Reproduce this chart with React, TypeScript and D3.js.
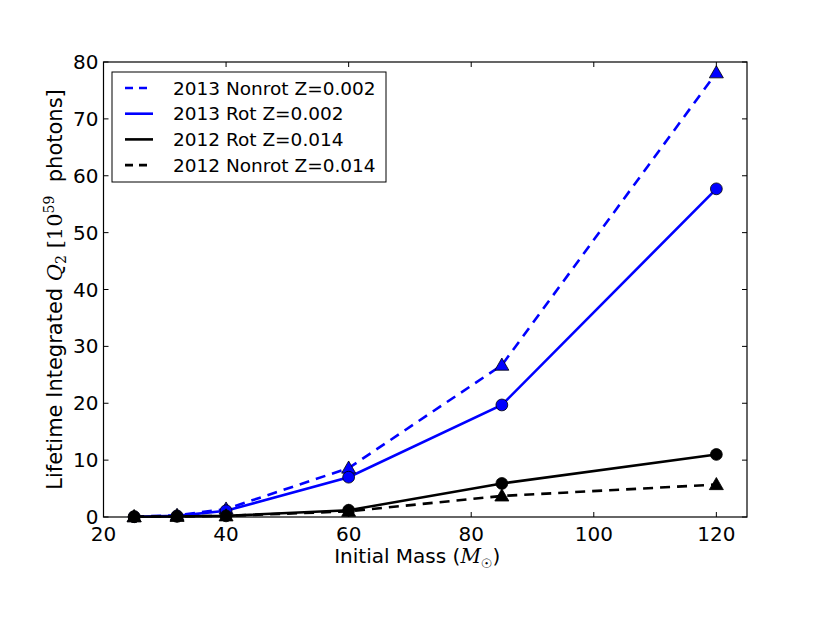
import { useEffect, useRef } from 'react'
import * as d3 from 'd3'

// initial masses (Msun)
const masses = [25, 32, 40, 60, 85, 120]

// lifetime integrated Q2, units of 1e59 photons
const nonrot2013 = [0.05, 0.3, 1.4, 8.6, 26.7, 78.1]
const rot2013 = [0.05, 0.2, 1.1, 7.0, 19.7, 57.7]
const rot2012 = [0.05, 0.1, 0.2, 1.2, 5.9, 11.0]
const nonrot2012 = [0.05, 0.1, 0.2, 1.0, 3.7, 5.7]

const xTicks = [20, 40, 60, 80, 100, 120]
const yTicks = [0, 10, 20, 30, 40, 50, 60, 70, 80]

const series = [
  { label: '2013 Nonrot Z=0.002', values: nonrot2013, color: '#0000ff', dashed: true, marker: 'triangle' },
  { label: '2013 Rot Z=0.002', values: rot2013, color: '#0000ff', dashed: false, marker: 'circle' },
  { label: '2012 Rot Z=0.014', values: rot2012, color: '#000000', dashed: false, marker: 'circle' },
  { label: '2012 Nonrot Z=0.014', values: nonrot2012, color: '#000000', dashed: true, marker: 'triangle' },
]

export default function App() {
  const svgRef = useRef<SVGSVGElement>(null)

  useEffect(() => {
    if (!svgRef.current) return
    const svg = d3.select(svgRef.current)
    svg.selectAll('*').remove()

    const left = 103.5, right = 747, top = 62, bottom = 517
    const font = 'DejaVu Sans, sans-serif'
    const serif = 'DejaVu Serif, serif'

    const x = d3.scaleLinear().domain([20, 125]).range([left, right])
    const y = d3.scaleLinear().domain([0, 80]).range([bottom, top])

    svg.append('rect').attr('width', 830).attr('height', 623).attr('fill', 'white')

    const plot = svg.append('g')

    // lines
    const line = d3.line<number>()
      .x((_, i) => x(masses[i]))
      .y(d => y(d))

    series.forEach(s => {
      plot.append('path')
        .datum(s.values)
        .attr('d', line)
        .attr('fill', 'none')
        .attr('stroke', s.color)
        .attr('stroke-width', 2.6)
        .attr('stroke-dasharray', s.dashed ? '10,7' : null)
    })

    // markers
    const circle = d3.symbol().type(d3.symbolCircle).size(110)
    const tri = d3.symbol().type(d3.symbolTriangle).size(85)
    series.forEach(s => {
      plot.selectAll(null)
        .data(s.values)
        .enter().append('path')
        .attr('d', s.marker === 'circle' ? circle() : tri())
        .attr('transform', (d, i) => `translate(${x(masses[i])},${y(d) + (s.marker === 'triangle' ? 1 : 0)})`)
        .attr('fill', s.color)
        .attr('stroke', 'black')
        .attr('stroke-width', 0.8)
    })

    // frame
    svg.append('rect')
      .attr('x', left).attr('y', top)
      .attr('width', right - left).attr('height', bottom - top)
      .attr('fill', 'none').attr('stroke', 'black').attr('stroke-width', 1.2)

    // inward ticks on all sides
    const tl = 5
    const ticks = svg.append('g').attr('stroke', 'black').attr('stroke-width', 1)
    xTicks.forEach(t => {
      ticks.append('line').attr('x1', x(t)).attr('x2', x(t)).attr('y1', bottom).attr('y2', bottom - tl)
      ticks.append('line').attr('x1', x(t)).attr('x2', x(t)).attr('y1', top).attr('y2', top + tl)
    })
    yTicks.forEach(t => {
      ticks.append('line').attr('x1', left).attr('x2', left + tl).attr('y1', y(t)).attr('y2', y(t))
      ticks.append('line').attr('x1', right).attr('x2', right - tl).attr('y1', y(t)).attr('y2', y(t))
    })

    svg.append('g').selectAll('text')
      .data(xTicks)
      .enter().append('text')
      .attr('x', d => x(d))
      .attr('y', bottom + 24)
      .attr('text-anchor', 'middle')
      .style('font-family', font)
      .style('font-size', '20px')
      .text(d => d)

    svg.append('g').selectAll('text')
      .data(yTicks)
      .enter().append('text')
      .attr('x', left - 5)
      .attr('y', d => y(d) + 7)
      .attr('text-anchor', 'end')
      .style('font-family', font)
      .style('font-size', '20px')
      .text(d => d)

    // x label
    const xl = svg.append('text')
      .attr('x', (left + right) / 2 - 8)
      .attr('y', 563)
      .attr('text-anchor', 'middle')
      .style('font-family', font)
      .style('font-size', '20px')
    xl.append('tspan').text('Initial Mass (')
    xl.append('tspan').text('M').style('font-family', serif).style('font-style', 'italic')
    xl.append('tspan').text('\u2609').attr('dy', 5).style('font-size', '13px')
    xl.append('tspan').text(')').attr('dy', -5)

    // y label
    const yl = svg.append('text')
      .attr('transform', `translate(62,${(top + bottom) / 2}) rotate(-90)`)
      .attr('text-anchor', 'middle')
      .style('font-family', font)
      .style('font-size', '21px')
      .style('white-space', 'pre')
    yl.append('tspan').text('Lifetime Integrated ')
    yl.append('tspan').text('Q').style('font-family', serif).style('font-style', 'italic')
    yl.append('tspan').text('2').attr('dy', 4).style('font-family', serif).style('font-size', '14px')
    yl.append('tspan').text(' [10').attr('dy', -4).style('font-family', serif)
    yl.append('tspan').text('59').attr('dy', -8).style('font-family', serif).style('font-size', '14px')
    yl.append('tspan').text('  photons]').attr('dy', 8)

    // legend
    const lg = svg.append('g')
    lg.append('rect')
      .attr('x', 112).attr('y', 72)
      .attr('width', 274).attr('height', 110)
      .attr('fill', 'white').attr('stroke', 'black').attr('stroke-width', 1)
    series.forEach((s, i) => {
      const ry = 88 + i * 25.7
      lg.append('line')
        .attr('x1', 125).attr('x2', 153)
        .attr('y1', ry).attr('y2', ry)
        .attr('stroke', s.color)
        .attr('stroke-width', 2.6)
        .attr('stroke-dasharray', s.dashed ? '8,6' : null)
      lg.append('text')
        .attr('x', 173).attr('y', ry + 6.5)
        .style('font-family', font)
        .style('font-size', '18.5px')
        .text(s.label)
    })
  }, [])

  return (
    <svg ref={svgRef} width={830} height={623}
      style={{ position: 'absolute', left: 0, top: 0, display: 'block' }} />
  )
}
